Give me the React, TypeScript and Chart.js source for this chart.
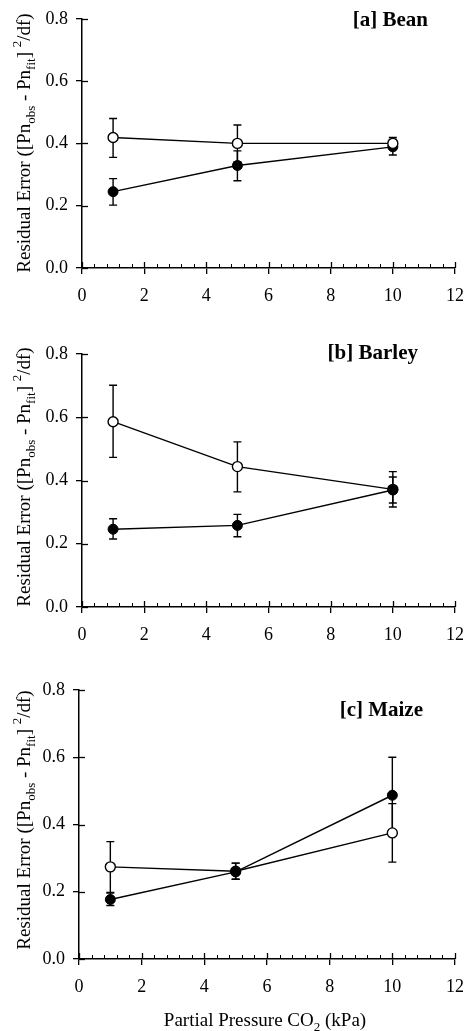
import React, { useEffect, useRef } from "react";
import { Chart, registerables } from "chart.js";

Chart.register(...registerables);

// ---------- data ----------
const X_VALUES = [1, 5, 10];
const X_TICKS = [0, 2, 4, 6, 8, 10, 12];
const Y_TICKS = [0, 0.2, 0.4, 0.6, 0.8];
const Y_TICK_LABELS = ["0.0", "0.2", "0.4", "0.6", "0.8"];

// [a] Bean
const BEAN_OPEN = [0.419, 0.4, 0.4];
const BEAN_OPEN_HI = [0.48, 0.459, 0.419];
const BEAN_OPEN_LO = [0.355, 0.341, 0.381];
const BEAN_FILLED = [0.245, 0.329, 0.389];
const BEAN_FILLED_HI = [0.287, 0.376, 0.413];
const BEAN_FILLED_LO = [0.202, 0.28, 0.363];

// [b] Barley
const BARLEY_OPEN = [0.586, 0.444, 0.372];
const BARLEY_OPEN_HI = [0.701, 0.522, 0.428];
const BARLEY_OPEN_LO = [0.473, 0.364, 0.316];
const BARLEY_FILLED = [0.246, 0.258, 0.37];
const BARLEY_FILLED_HI = [0.279, 0.293, 0.411];
const BARLEY_FILLED_LO = [0.215, 0.222, 0.329];

// [c] Maize
const MAIZE_OPEN = [0.274, 0.261, 0.375];
const MAIZE_OPEN_HI = [0.349, 0.285, 0.462];
const MAIZE_OPEN_LO = [0.198, 0.237, 0.288];
const MAIZE_FILLED = [0.177, 0.259, 0.487];
const MAIZE_FILLED_HI = [0.196, 0.285, 0.6];
const MAIZE_FILLED_LO = [0.159, 0.237, 0.374];

const TITLES = ["[a] Bean", "[b] Barley", "[c] Maize"];
const Y_TITLE_RUNS = [
  { t: "Residual Error ([Pn", k: "n" },
  { t: "obs", k: "sub" },
  { t: " - Pn", k: "n" },
  { t: "fit", k: "sub" },
  { t: "] ", k: "n" },
  { t: "2", k: "sup" },
  { t: "/df)", k: "n" },
];
const X_TITLE_RUNS = [
  { t: "Partial Pressure CO", k: "n" },
  { t: "2", k: "sub" },
  { t: " (kPa)", k: "n" },
];

const FONT = "'Liberation Serif', 'Times New Roman', serif";

type Layout = {
  top: number;
  height: number;
  left: number;
  right: number;
  areaTop: number;
  areaBottom: number;
  titleRight: number;
  titleBaseline: number;
  yTitleCenter: number;
  openOnTop: boolean;
  showXTitle: boolean;
};

const PANELS = [
  {
    title: TITLES[0],
    open: BEAN_OPEN, openHi: BEAN_OPEN_HI, openLo: BEAN_OPEN_LO,
    filled: BEAN_FILLED, filledHi: BEAN_FILLED_HI, filledLo: BEAN_FILLED_LO,
    layout: { top: 0, height: 330, left: 82, right: 464, areaTop: 17, areaBottom: 268, titleRight: 428, titleBaseline: 26, yTitleCenter: 143, openOnTop: true, showXTitle: false } as Layout,
  },
  {
    title: TITLES[1],
    open: BARLEY_OPEN, openHi: BARLEY_OPEN_HI, openLo: BARLEY_OPEN_LO,
    filled: BARLEY_FILLED, filledHi: BARLEY_FILLED_HI, filledLo: BARLEY_FILLED_LO,
    layout: { top: 330, height: 340, left: 82, right: 463, areaTop: 24, areaBottom: 277, titleRight: 418, titleBaseline: 29, yTitleCenter: 147, openOnTop: false, showXTitle: false } as Layout,
  },
  {
    title: TITLES[2],
    open: MAIZE_OPEN, openHi: MAIZE_OPEN_HI, openLo: MAIZE_OPEN_LO,
    filled: MAIZE_FILLED, filledHi: MAIZE_FILLED_HI, filledLo: MAIZE_FILLED_LO,
    layout: { top: 670, height: 361, left: 79, right: 462, areaTop: 20, areaBottom: 289, titleRight: 423, titleBaseline: 46, yTitleCenter: 150, openOnTop: false, showXTitle: true } as Layout,
  },
];

function drawRuns(ctx: CanvasRenderingContext2D, runs: { t: string; k: string }[], size: number) {
  const small = Math.round(size * 0.68);
  const widths = runs.map((r) => {
    ctx.font = `${r.k === "n" ? size : small}px ${FONT}`;
    return ctx.measureText(r.t).width;
  });
  const total = widths.reduce((a, b) => a + b, 0);
  let x = -total / 2;
  ctx.textAlign = "left";
  ctx.textBaseline = "alphabetic";
  runs.forEach((r, i) => {
    ctx.font = `${r.k === "n" ? size : small}px ${FONT}`;
    const dy = r.k === "sub" ? size * 0.28 : r.k === "sup" ? -size * 0.45 : 0;
    ctx.fillText(r.t, x, dy);
    x += widths[i];
  });
}

function Panel({ panel }: { panel: (typeof PANELS)[number] }) {
  const ref = useRef<HTMLCanvasElement>(null);
  useEffect(() => {
    const L = panel.layout;
    const series = [
      { v: panel.open, hi: panel.openHi, lo: panel.openLo },
      { v: panel.filled, hi: panel.filledHi, lo: panel.filledLo },
    ];
    const decor = {
      id: "decor",
      beforeDatasetsDraw(chart: any) {
        const ctx: CanvasRenderingContext2D = chart.ctx;
        const xs = chart.scales.x;
        const ys = chart.scales.y;
        ctx.save();
        ctx.strokeStyle = "#000";
        ctx.lineWidth = 1.3;
        // inward major y ticks
        Y_TICKS.forEach((v) => {
          const py = Math.round(ys.getPixelForValue(v)) + 0.5;
          ctx.beginPath();
          ctx.moveTo(xs.left, py);
          ctx.lineTo(xs.left + 6, py);
          ctx.stroke();
        });
        // inward major x ticks + minor ticks
        const base = ys.bottom;
        for (let k = 0; k <= 30; k++) {
          const v = k * 0.4;
          const px = Math.round(xs.getPixelForValue(v)) + 0.5;
          const len = k % 5 === 0 ? 6 : 4;
          ctx.lineWidth = k % 5 === 0 ? 1.3 : 1;
          ctx.beginPath();
          ctx.moveTo(px, base);
          ctx.lineTo(px, base - len);
          ctx.stroke();
        }
        // error bars
        ctx.lineWidth = 1.4;
        series.forEach((s) => {
          X_VALUES.forEach((xv, i) => {
            const px = xs.getPixelForValue(xv);
            const pt = ys.getPixelForValue(s.hi[i]);
            const pb = ys.getPixelForValue(s.lo[i]);
            ctx.beginPath();
            ctx.moveTo(px, pt);
            ctx.lineTo(px, pb);
            ctx.moveTo(px - 4, pt);
            ctx.lineTo(px + 4, pt);
            ctx.moveTo(px - 4, pb);
            ctx.lineTo(px + 4, pb);
            ctx.stroke();
          });
        });
        ctx.restore();
      },
      afterDraw(chart: any) {
        const ctx: CanvasRenderingContext2D = chart.ctx;
        const xs = chart.scales.x;
        ctx.save();
        ctx.fillStyle = "#000";
        // panel title
        ctx.font = `bold 21px ${FONT}`;
        ctx.textAlign = "right";
        ctx.textBaseline = "alphabetic";
        ctx.fillText(panel.title, L.titleRight, L.titleBaseline);
        // y title
        ctx.save();
        ctx.translate(30, L.yTitleCenter);
        ctx.rotate(-Math.PI / 2);
        drawRuns(ctx, Y_TITLE_RUNS, 19);
        ctx.restore();
        // x title
        if (L.showXTitle) {
          ctx.save();
          ctx.translate((xs.left + xs.right) / 2 - 2, 356);
          drawRuns(ctx, X_TITLE_RUNS, 19);
          ctx.restore();
        }
        ctx.restore();
      },
    };

    const openDs = {
      label: "open",
      data: X_VALUES.map((x, i) => ({ x, y: panel.open[i] })),
      showLine: true,
      borderColor: "#000",
      borderWidth: 1.4,
      pointRadius: 5,
      pointStyle: "circle",
      pointBackgroundColor: "#fff",
      pointBorderColor: "#000",
      pointBorderWidth: 1.4,
    };
    const filledDs = {
      label: "filled",
      data: X_VALUES.map((x, i) => ({ x, y: panel.filled[i] })),
      showLine: true,
      borderColor: "#000",
      borderWidth: 1.4,
      pointRadius: 5,
      pointStyle: "circle",
      pointBackgroundColor: "#000",
      pointBorderColor: "#000",
      pointBorderWidth: 1,
    };

    const chart = new Chart(ref.current as HTMLCanvasElement, {
      type: "scatter",
      data: { datasets: (L.openOnTop ? [openDs, filledDs] : [filledDs, openDs]) as any },
      options: {
        responsive: false,
        animation: false,
        devicePixelRatio: 1,
        layout: { padding: { top: L.areaTop, right: 475 - L.right, left: 0, bottom: 0 } },
        plugins: { legend: { display: false }, tooltip: { enabled: false }, title: { display: false } },
        scales: {
          x: {
            type: "linear",
            min: 0,
            max: 12,
            afterBuildTicks: (s: any) => {
              s.ticks = X_TICKS.map((v) => ({ value: v }));
            },
            afterFit: (s: any) => {
              s.height = L.height - L.areaBottom;
            },
            ticks: {
              color: "#000",
              font: { family: FONT, size: 18 },
              padding: 11,
              maxRotation: 0,
              autoSkip: false,
              callback: (v: any) => String(v),
            },
            grid: { drawOnChartArea: false, drawTicks: true, tickLength: 6, color: "#000", lineWidth: 1.3 },
            border: { display: true, color: "#000", width: 1.5 },
          },
          y: {
            type: "linear",
            min: 0,
            max: 0.8,
            afterBuildTicks: (s: any) => {
              s.ticks = Y_TICKS.map((v) => ({ value: v }));
            },
            afterFit: (s: any) => {
              s.width = L.left;
            },
            ticks: {
              color: "#000",
              font: { family: FONT, size: 18 },
              padding: 8,
              autoSkip: false,
              callback: (_v: any, i: number) => Y_TICK_LABELS[i],
            },
            grid: { drawOnChartArea: false, drawTicks: true, tickLength: 6, color: "#000", lineWidth: 1.3 },
            border: { display: true, color: "#000", width: 1.5 },
          },
        },
      } as any,
      plugins: [decor as any],
    });
    return () => chart.destroy();
  }, []);
  const L = panel.layout;
  return (
    <canvas
      ref={ref}
      width={475}
      height={L.height}
      style={{ position: "absolute", left: 0, top: L.top, width: 475, height: L.height }}
    />
  );
}

export default function App() {
  return (
    <div style={{ position: "absolute", left: 0, top: 0, width: 475, height: 1031, background: "#fff" }}>
      {PANELS.map((p, i) => (
        <Panel key={i} panel={p} />
      ))}
    </div>
  );
}
